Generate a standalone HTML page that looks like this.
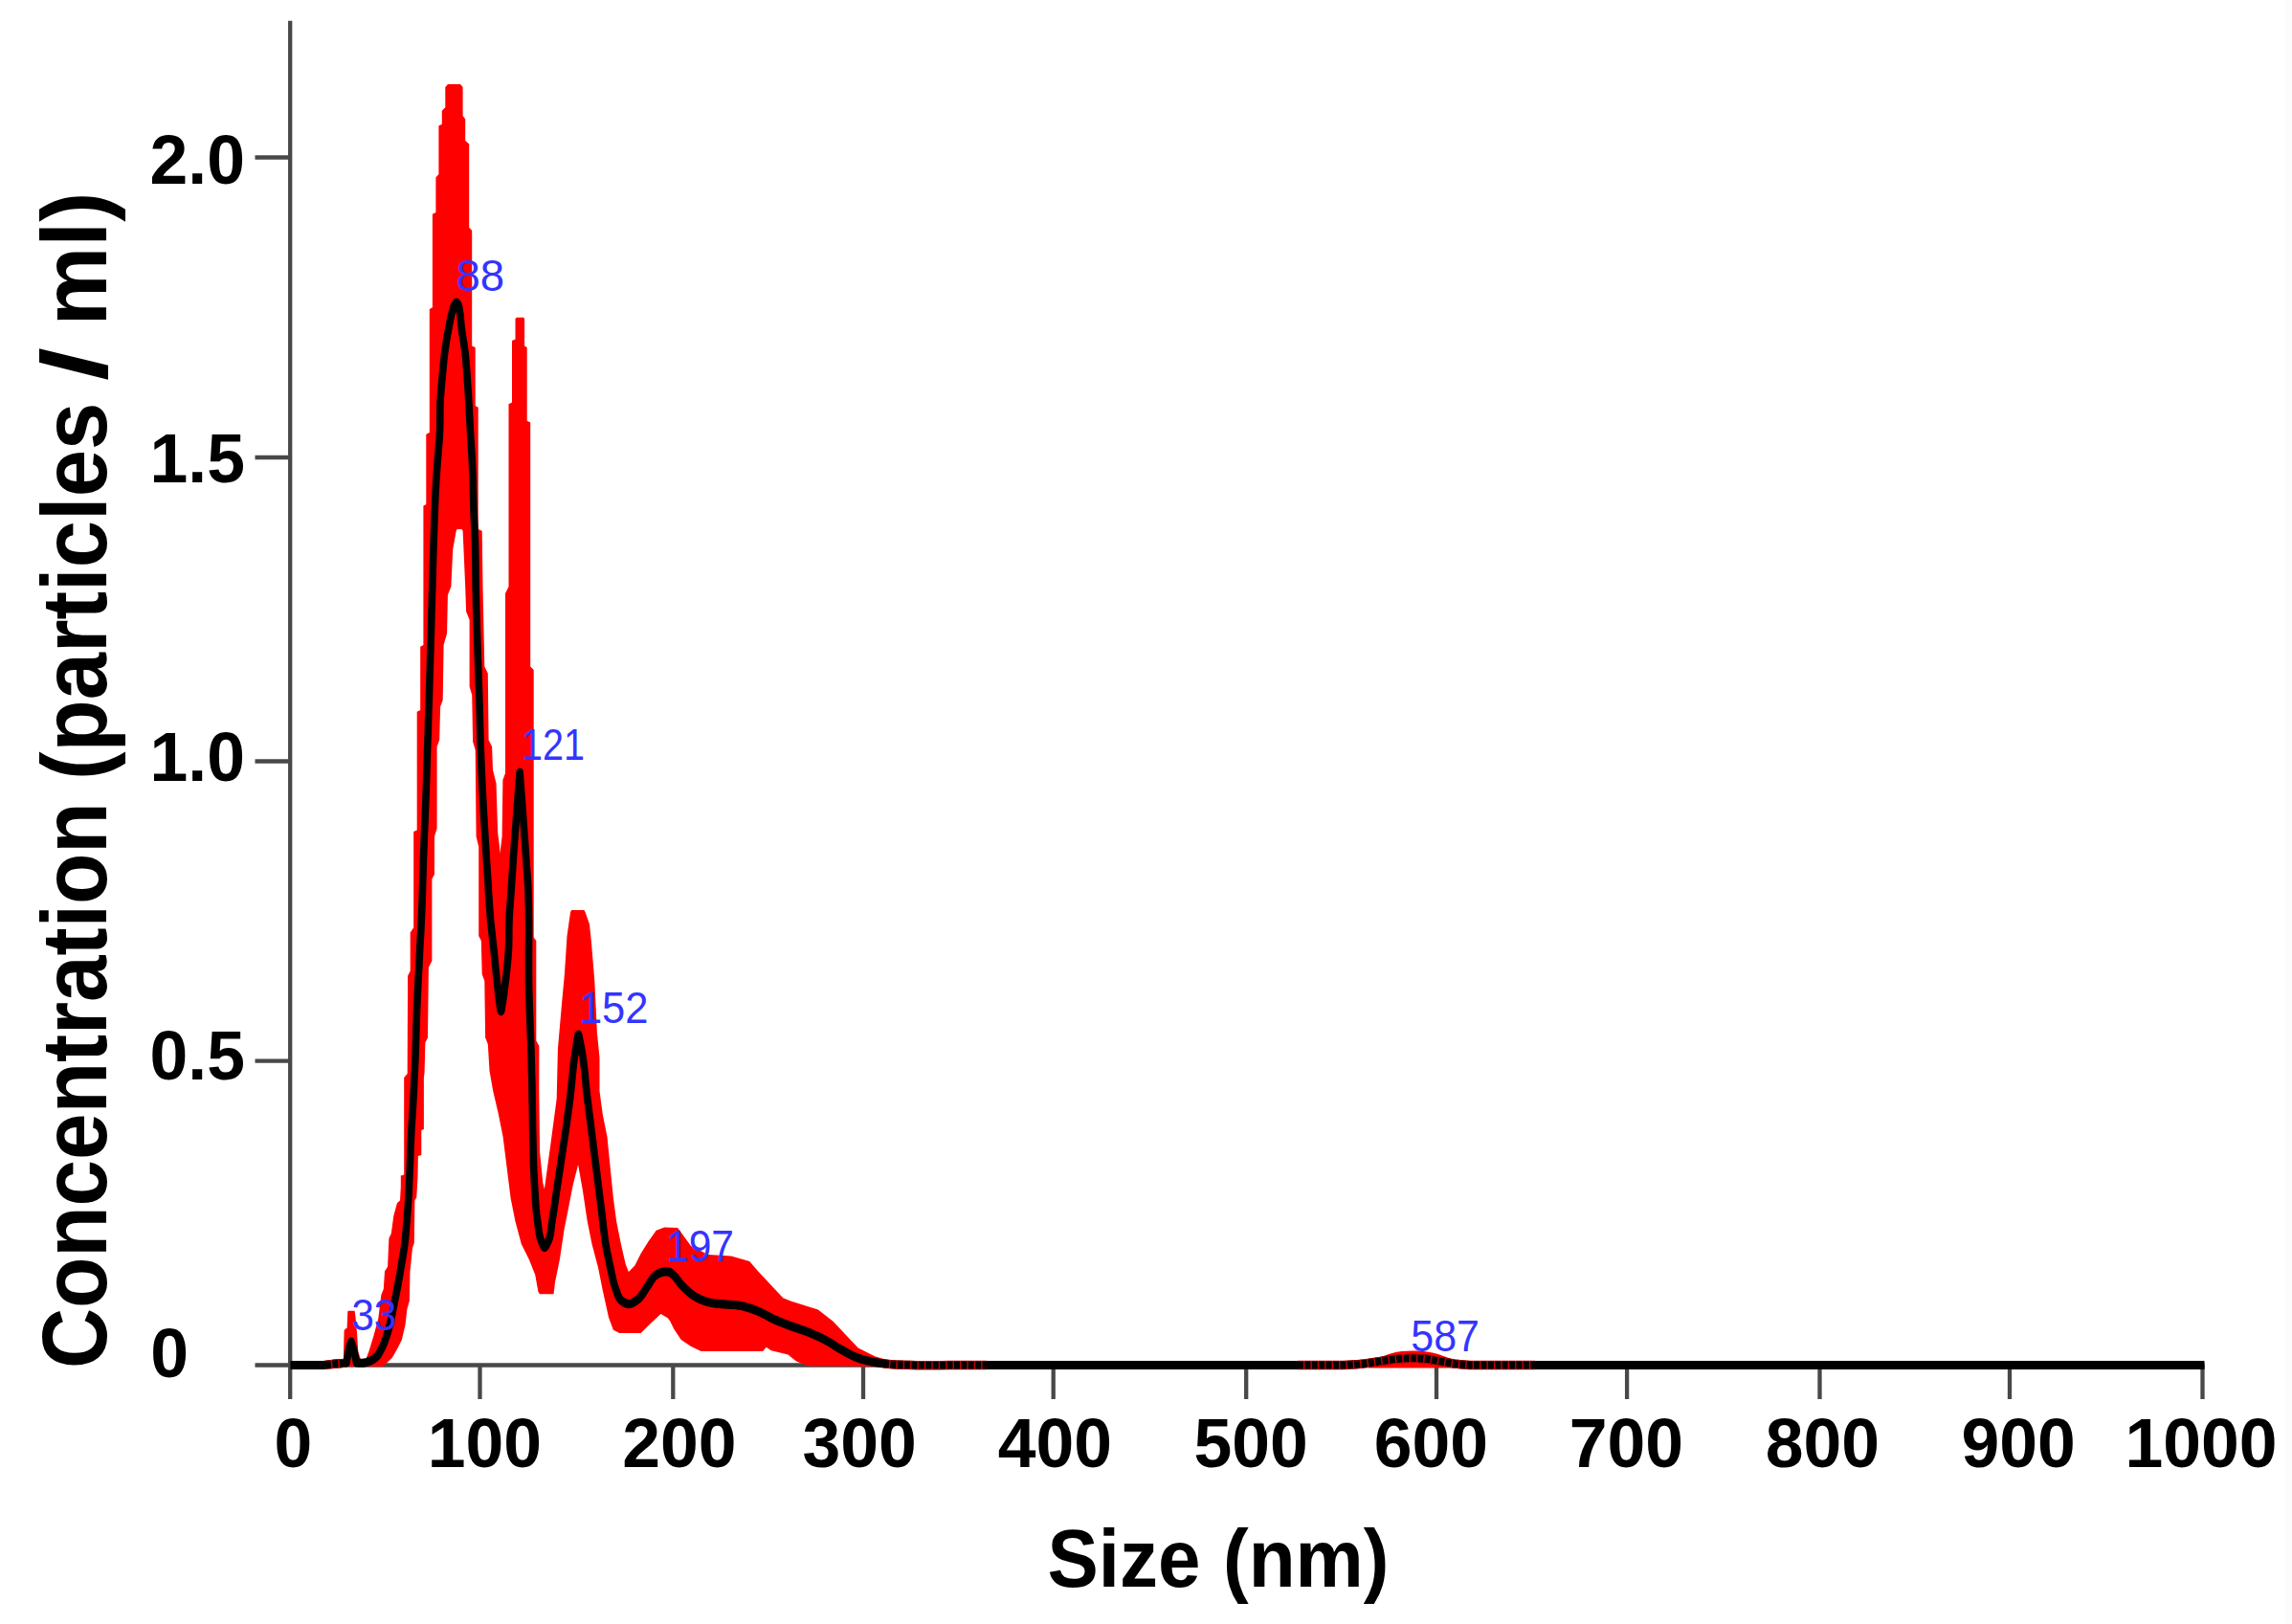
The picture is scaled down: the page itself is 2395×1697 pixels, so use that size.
<!DOCTYPE html>
<html lang="en"><head><meta charset="utf-8"><title>Size distribution</title>
<style>html,body{margin:0;padding:0;background:#fff;}body{width:2395px;height:1697px;overflow:hidden;}svg{display:block;}</style>
</head><body>
<svg width="2395" height="1697" viewBox="0 0 2395 1697">
<rect width="2395" height="1697" fill="#fff"/>
<rect x="2388.7" y="0" width="6.3" height="1697" fill="#fcfcfc"/>
<g stroke="#484848" stroke-width="4.3" fill="none">
<line x1="303.2" y1="21.8" x2="303.2" y2="1462"/>
<line x1="266.5" y1="1426.5" x2="2303.5" y2="1426.5"/>
<line x1="266.5" y1="164.5" x2="303" y2="164.5"/>
<line x1="266.5" y1="478" x2="303" y2="478"/>
<line x1="266.5" y1="795.5" x2="303" y2="795.5"/>
<line x1="266.5" y1="1108.6" x2="303" y2="1108.6"/>
<line x1="501.5" y1="1426" x2="501.5" y2="1462"/>
<line x1="703.3" y1="1426" x2="703.3" y2="1462"/>
<line x1="902.0" y1="1426" x2="902.0" y2="1462"/>
<line x1="1100.7" y1="1426" x2="1100.7" y2="1462"/>
<line x1="1302.2" y1="1426" x2="1302.2" y2="1462"/>
<line x1="1501.0" y1="1426" x2="1501.0" y2="1462"/>
<line x1="1700.1" y1="1426" x2="1700.1" y2="1462"/>
<line x1="1901.5" y1="1426" x2="1901.5" y2="1462"/>
<line x1="2100.0" y1="1426" x2="2100.0" y2="1462"/>
<line x1="2301.5" y1="1426" x2="2301.5" y2="1462"/>
</g>
<polygon fill="#ff0000" points="341.0,1427.00 348.5,1420.50 358.9,1420.50 359.6,1390.10 362.6,1387.60 363.3,1370.40 363.9,1369.80 370.6,1369.80 371.6,1376.90 373.1,1393.80 374.3,1412.30 377.4,1422.10 381.7,1422.10 385.4,1412.30 390.3,1396.30 395.3,1377.80 398.3,1353.20 400.8,1347.00 402.0,1328.50 405.1,1323.60 406.4,1294.00 408.8,1289.10 411.3,1270.60 415.0,1257.10 418.0,1254.60 418.8,1240.00 418.8,1228.40 422.2,1227.60 422.2,1126.00 425.7,1122.00 426.1,1019.70 428.7,1014.50 428.7,974.40 432.2,969.20 432.2,869.00 435.7,867.40 435.7,743.70 439.2,742.00 439.2,675.70 442.4,674.00 442.4,528.60 445.3,526.90 445.3,453.70 448.8,452.00 448.8,323.00 451.9,321.30 451.9,223.80 455.4,222.00 455.4,185.40 458.4,182.00 458.4,131.40 461.8,129.70 461.8,115.70 465.3,112.30 465.3,91.00 468.0,87.90 481.0,87.90 483.6,91.00 483.6,121.00 486.2,124.50 486.2,147.00 490.2,150.60 490.2,237.70 493.2,241.00 493.2,361.40 496.7,363.00 496.7,424.00 499.7,425.80 499.7,553.00 503.7,554.70 504.5,613.00 506.3,696.60 509.8,703.60 510.6,773.30 514.1,780.20 515.0,804.60 518.5,818.60 520.2,870.80 522.0,884.80 522.4,891.70 524.6,874.30 525.4,815.10 528.0,808.10 528.0,620.00 531.5,613.00 531.5,422.30 535.0,420.60 535.0,356.00 538.5,354.40 538.5,333.00 540.0,331.70 547.0,331.70 548.1,333.00 548.1,361.40 550.7,363.00 550.7,439.80 554.2,441.50 554.2,696.60 557.7,700.10 557.7,979.60 560.3,983.10 560.3,1087.60 563.4,1092.90 563.3,1140.00 564.1,1204.00 567.3,1236.00 568.9,1242.50 572.0,1220.00 575.3,1196.00 578.5,1172.00 581.7,1148.00 582.9,1096.30 587.3,1045.80 589.9,1018.00 592.5,977.90 596.0,953.50 597.0,950.90 610.5,950.90 611.7,953.50 616.0,965.70 617.8,983.10 621.3,1024.90 623.9,1078.90 626.5,1105.00 626.5,1140.00 629.7,1164.00 634.5,1188.00 637.7,1220.00 640.9,1252.00 644.1,1276.00 648.9,1300.00 653.7,1321.00 656.9,1329.00 663.3,1322.50 669.7,1309.70 677.7,1296.90 685.7,1285.70 694.2,1282.50 708.2,1283.00 722.0,1302.00 740.0,1311.00 764.0,1312.60 783.2,1317.90 792.0,1328.30 818.2,1356.30 826.9,1359.80 854.8,1368.50 870.5,1380.70 896.7,1408.60 914.1,1417.30 931.6,1422.60 949.0,1424.30 960.0,1426.00 960.0,1428.00 844.3,1427.50 832.1,1422.60 823.4,1415.60 805.9,1411.20 800.7,1407.70 797.2,1412.10 732.6,1412.10 722.2,1406.90 711.7,1399.90 704.7,1389.40 700.0,1380.20 697.7,1377.20 690.5,1373.00 679.3,1383.40 669.7,1393.00 647.3,1393.00 640.9,1389.80 636.1,1377.00 629.7,1348.00 624.9,1324.00 618.5,1300.00 613.7,1276.00 608.9,1244.00 604.1,1216.90 598.5,1239.30 594.5,1260.00 589.7,1284.00 584.9,1316.00 580.0,1340.00 578.5,1352.20 564.0,1352.20 562.4,1349.80 559.2,1332.00 552.8,1316.00 544.8,1300.00 538.4,1276.00 533.6,1252.00 529.6,1220.00 525.6,1188.00 520.8,1164.00 515.2,1140.00 511.5,1119.00 509.8,1091.10 507.1,1084.20 506.3,1024.90 503.7,1018.00 502.8,983.10 500.2,977.90 500.2,884.80 497.6,874.30 496.7,783.70 494.1,775.00 493.2,726.20 490.6,717.50 490.6,647.80 487.1,639.10 486.2,613.00 483.6,554.70 482.5,553.00 477.5,553.00 476.7,554.70 473.2,573.90 471.4,613.00 467.9,621.70 467.1,661.80 463.6,674.00 462.7,731.50 460.1,738.40 459.2,773.30 456.6,780.20 456.6,865.60 454.0,874.30 454.0,913.40 451.4,918.60 451.4,1004.00 447.9,1011.00 447.0,1084.20 444.4,1089.40 443.6,1120.70 442.9,1126.00 442.9,1180.00 440.3,1181.00 440.3,1207.00 436.9,1208.00 436.5,1230.00 435.3,1250.90 433.4,1254.60 432.8,1299.00 431.0,1303.90 428.5,1328.50 427.9,1359.30 425.4,1367.90 423.6,1383.90 419.9,1400.00 415.0,1409.80 410.0,1418.40 403.9,1424.60 400.0,1428.00 341.0,1428.00"/>
<path fill="#ff0000" d="M1430,1424 C1450,1414 1460,1411.5 1476,1411.5 C1500,1411.5 1510,1418 1530,1425 L1530,1429.5 L1430,1429.5 Z"/>
<g transform="scale(1,1.2)"><polyline fill="none" stroke="#000" stroke-width="7.6" stroke-linejoin="round" stroke-linecap="butt" points="303.4,1188.75 306.2,1188.75 308.9,1188.75 311.7,1188.75 314.5,1188.75 317.2,1188.75 320.0,1188.75 323.0,1188.75 326.0,1188.75 329.0,1188.75 332.0,1188.75 335.0,1188.75 338.0,1188.75 340.0,1188.57 342.0,1188.38 344.0,1188.19 346.0,1188.01 348.0,1187.83 350.0,1187.67 351.3,1187.57 352.7,1187.48 354.0,1187.39 355.3,1187.30 356.7,1187.20 358.0,1187.08 358.7,1187.02 359.3,1186.95 360.0,1186.88 360.7,1186.81 361.3,1186.74 362.0,1186.67 362.4,1184.58 362.9,1182.48 363.3,1180.39 363.7,1178.30 364.2,1176.22 364.8,1174.17 365.1,1173.19 365.5,1172.21 365.8,1171.24 366.2,1170.27 366.5,1169.30 366.9,1168.33 367.3,1169.30 367.7,1170.27 368.1,1171.24 368.5,1172.21 368.8,1173.19 369.2,1174.17 369.9,1176.22 370.4,1178.30 371.0,1180.39 371.5,1182.48 372.0,1184.58 372.5,1186.67 373.6,1186.71 374.8,1186.78 375.9,1186.85 377.0,1186.89 378.2,1186.90 379.3,1186.83 380.3,1186.72 381.4,1186.56 382.4,1186.37 383.4,1186.14 384.4,1185.87 385.4,1185.58 386.7,1185.14 388.0,1184.63 389.3,1184.06 390.5,1183.43 391.7,1182.74 392.8,1182.00 394.1,1180.87 395.3,1179.59 396.3,1178.20 397.2,1176.75 398.1,1175.28 399.0,1173.83 400.0,1172.19 400.9,1170.50 401.7,1168.79 402.4,1167.06 403.2,1165.32 403.9,1163.58 404.9,1161.06 405.8,1158.51 406.6,1155.93 407.3,1153.35 408.1,1150.76 408.8,1148.17 409.5,1145.61 410.1,1143.04 410.7,1140.47 411.3,1137.90 411.9,1135.32 412.5,1132.75 413.1,1130.18 413.8,1127.61 414.4,1125.05 415.0,1122.48 415.6,1119.91 416.2,1117.33 416.7,1114.78 417.3,1112.23 417.8,1109.67 418.3,1107.11 418.8,1104.56 419.3,1102.00 419.8,1099.43 420.4,1096.87 420.9,1094.30 421.4,1091.73 421.9,1089.16 422.4,1086.58 422.9,1083.18 423.4,1079.77 423.8,1076.35 424.1,1072.93 424.5,1069.50 424.8,1066.08 425.2,1062.66 425.5,1059.23 425.8,1055.80 426.1,1052.37 426.4,1048.93 426.7,1045.50 426.9,1042.09 427.2,1038.67 427.4,1035.25 427.5,1031.84 427.7,1028.42 427.9,1025.00 428.3,1017.92 428.6,1010.83 428.9,1003.75 429.2,996.66 429.6,989.58 430.0,982.50 430.2,979.49 430.5,976.47 430.7,973.46 430.9,970.44 431.2,967.43 431.4,964.42 431.9,957.16 432.4,949.89 432.8,942.63 433.2,935.37 433.6,928.10 434.0,920.83 434.3,913.58 434.6,906.33 434.8,899.08 435.1,891.83 435.4,884.58 435.7,877.33 436.1,870.07 436.5,862.80 436.9,855.54 437.4,848.28 437.9,841.01 438.3,833.75 438.7,826.50 439.2,819.25 439.7,812.00 440.1,804.75 440.5,797.50 440.9,790.25 441.2,782.99 441.5,775.72 441.7,768.46 442.0,761.19 442.2,753.93 442.5,746.67 442.9,738.82 443.2,730.97 443.6,723.12 444.0,715.28 444.4,707.43 444.8,699.58 445.1,692.32 445.4,685.06 445.7,677.79 445.9,670.53 446.2,663.26 446.5,656.00 446.8,648.75 447.1,641.50 447.4,634.25 447.6,627.00 447.9,619.75 448.2,612.50 448.6,602.82 448.9,593.14 449.3,583.46 449.6,573.78 450.0,564.10 450.3,554.42 450.6,547.15 450.8,539.89 451.0,532.62 451.3,525.36 451.5,518.10 451.8,510.83 452.1,502.99 452.3,495.14 452.6,487.29 452.9,479.44 453.2,471.60 453.5,463.75 453.8,456.48 454.1,449.22 454.4,441.95 454.8,434.69 455.2,427.43 455.7,420.17 455.9,417.50 456.1,414.83 456.3,412.17 456.5,409.50 456.8,406.83 457.0,404.17 457.4,399.58 457.9,395.00 458.3,390.42 458.8,385.84 459.2,381.25 459.5,376.67 459.7,372.13 459.8,367.59 459.8,363.04 459.8,358.50 459.9,353.95 460.1,349.42 460.4,345.82 460.7,342.22 461.0,338.62 461.4,335.02 461.8,331.43 462.2,327.83 462.6,324.25 463.0,320.66 463.4,317.07 463.8,313.49 464.3,309.91 464.8,306.33 465.4,302.72 466.1,299.12 466.7,295.51 467.5,291.92 468.3,288.33 469.1,284.75 469.6,282.56 470.1,280.36 470.6,278.17 471.2,275.99 471.8,273.82 472.5,271.67 472.8,270.60 473.2,269.52 473.5,268.44 473.9,267.39 474.4,266.37 475.0,265.42 475.3,265.01 475.6,264.55 475.9,264.10 476.2,263.71 476.6,263.44 476.9,263.33 477.2,263.44 477.6,263.71 477.9,264.10 478.2,264.55 478.5,265.01 478.8,265.42 479.3,266.36 479.7,267.38 479.9,268.43 480.1,269.52 480.3,270.60 480.5,271.67 480.9,273.83 481.2,276.00 481.4,278.19 481.6,280.38 481.8,282.57 482.1,284.75 482.7,288.35 483.3,291.95 484.0,295.54 484.7,299.13 485.3,302.73 485.9,306.33 486.4,309.91 486.8,313.49 487.1,317.07 487.5,320.66 487.8,324.25 488.1,327.83 488.4,331.43 488.7,335.02 489.0,338.62 489.3,342.22 489.5,345.82 489.8,349.42 490.1,354.05 490.4,358.69 490.7,363.33 491.0,367.97 491.3,372.61 491.6,377.25 491.9,381.74 492.2,386.22 492.6,390.71 492.9,395.19 493.2,399.68 493.5,404.17 493.8,410.46 494.1,416.75 494.3,423.04 494.5,429.33 494.7,435.63 494.9,441.92 495.2,447.97 495.5,454.03 495.9,460.08 496.2,466.14 496.5,472.19 496.7,478.25 496.8,483.68 496.9,489.11 497.0,494.54 497.0,499.97 497.1,505.40 497.2,510.83 497.4,518.10 497.6,525.36 497.8,532.63 498.1,539.89 498.3,547.15 498.6,554.42 499.0,564.10 499.4,573.78 499.8,583.46 500.2,593.14 500.6,602.82 501.0,612.50 501.2,618.75 501.4,625.00 501.6,631.25 501.8,637.50 502.0,643.75 502.2,650.00 502.8,662.33 503.4,674.65 504.1,686.97 504.9,699.29 505.7,711.60 506.6,723.92 507.0,730.07 507.5,736.22 508.0,742.38 508.4,748.53 508.9,754.68 509.4,760.83 509.9,767.36 510.3,773.90 510.8,780.43 511.3,786.96 511.9,793.48 512.5,800.00 513.0,804.80 513.7,809.59 514.3,814.38 514.9,819.17 515.6,823.96 516.2,828.75 516.8,833.54 517.3,838.34 517.9,843.13 518.5,847.92 519.1,852.71 519.7,857.50 520.1,860.14 520.4,862.79 520.7,865.43 521.1,868.07 521.5,870.70 522.0,873.33 522.2,874.69 522.5,876.25 522.7,877.81 523.0,879.17 523.2,880.13 523.5,880.50 523.8,880.14 524.1,879.18 524.4,877.82 524.6,876.26 524.9,874.70 525.2,873.33 525.7,870.71 526.2,868.07 526.6,865.43 527.0,862.79 527.4,860.14 527.8,857.50 528.5,852.72 529.2,847.93 529.8,843.14 530.4,838.35 530.9,833.55 531.3,828.75 531.6,823.97 531.7,819.17 531.8,814.38 531.8,809.58 531.9,804.79 532.1,800.00 532.3,796.55 532.6,793.11 532.9,789.66 533.2,786.22 533.5,782.78 533.8,779.33 534.3,773.18 534.8,767.03 535.3,760.87 535.8,754.72 536.3,748.57 536.8,742.42 537.8,730.76 538.9,719.11 539.9,707.45 541.0,695.80 542.1,684.15 543.2,672.50 544.2,684.15 545.3,695.80 546.3,707.45 547.3,719.11 548.3,730.76 549.3,742.42 549.8,748.57 550.3,754.72 550.9,760.87 551.4,767.02 551.8,773.18 552.1,779.33 552.2,782.78 552.3,786.22 552.4,789.66 552.5,793.11 552.5,796.56 552.6,800.00 552.7,809.58 552.6,819.17 552.5,828.75 552.5,838.34 552.5,847.92 552.6,857.50 552.7,862.28 552.9,867.06 553.1,871.83 553.3,876.61 553.5,881.39 553.7,886.17 553.9,891.25 554.1,896.33 554.4,901.42 554.6,906.50 554.8,911.58 555.0,916.67 555.2,922.22 555.4,927.78 555.5,933.33 555.7,938.89 555.9,944.44 556.0,950.00 556.1,956.67 556.3,963.33 556.4,970.00 556.5,976.67 556.6,983.33 556.8,990.00 557.0,996.67 557.2,1003.34 557.4,1010.01 557.6,1016.68 558.0,1023.34 558.4,1030.00 558.8,1035.57 559.2,1041.14 559.6,1046.71 560.1,1052.27 560.8,1057.81 561.7,1063.33 562.2,1066.29 562.6,1069.26 563.1,1072.24 563.7,1075.17 564.5,1078.05 565.7,1080.83 566.2,1081.87 566.7,1083.04 567.2,1084.20 567.8,1085.22 568.3,1085.95 568.9,1086.25 569.5,1086.01 570.2,1085.31 570.9,1084.28 571.6,1083.09 572.3,1081.89 572.9,1080.83 574.2,1078.12 575.0,1075.26 575.6,1072.30 576.0,1069.30 576.4,1066.30 576.9,1063.33 577.8,1058.90 578.6,1054.46 579.4,1050.01 580.2,1045.56 580.9,1041.11 581.7,1036.67 582.5,1032.22 583.3,1027.78 584.1,1023.33 584.9,1018.89 585.7,1014.44 586.5,1010.00 587.3,1005.56 588.1,1001.11 588.9,996.67 589.7,992.23 590.5,987.78 591.3,983.33 592.1,978.48 592.9,973.62 593.7,968.76 594.5,963.90 595.3,959.03 596.0,954.17 596.7,948.61 597.4,943.05 598.0,937.49 598.7,931.93 599.4,926.37 600.3,920.83 600.7,918.47 601.1,916.10 601.6,913.74 602.0,911.38 602.5,909.02 603.0,906.67 603.2,905.56 603.4,904.29 603.7,903.02 603.9,901.92 604.2,901.13 604.4,900.83 604.7,901.13 604.9,901.91 605.2,903.01 605.5,904.29 605.7,905.56 606.0,906.67 606.6,909.02 607.1,911.37 607.7,913.73 608.2,916.10 608.6,918.46 609.1,920.83 609.9,925.67 610.6,930.53 611.2,935.39 611.7,940.27 612.3,945.14 612.9,950.00 613.5,954.45 614.2,958.89 614.9,963.34 615.5,967.78 616.2,972.22 616.9,976.67 617.6,981.11 618.2,985.56 618.9,990.00 619.6,994.44 620.2,998.89 620.9,1003.33 621.6,1007.78 622.2,1012.22 622.9,1016.67 623.6,1021.11 624.2,1025.56 624.9,1030.00 625.6,1034.44 626.2,1038.89 626.9,1043.33 627.6,1047.78 628.2,1052.22 628.9,1056.67 629.5,1061.12 630.1,1065.57 630.7,1070.02 631.4,1074.47 632.1,1078.91 632.9,1083.33 633.6,1086.68 634.3,1090.02 635.1,1093.36 636.0,1096.69 636.8,1100.01 637.7,1103.33 638.5,1106.50 639.3,1109.69 640.1,1112.88 641.0,1116.03 642.0,1119.14 643.3,1122.17 644.1,1124.07 644.9,1126.05 645.8,1128.01 646.8,1129.86 648.1,1131.50 649.7,1132.83 650.8,1133.46 651.9,1134.07 653.1,1134.61 654.4,1135.05 655.7,1135.36 656.9,1135.50 658.5,1135.37 660.2,1134.91 661.9,1134.21 663.5,1133.35 665.0,1132.42 666.5,1131.50 668.4,1130.05 670.1,1128.36 671.7,1126.52 673.1,1124.60 674.6,1122.68 676.1,1120.83 677.6,1118.97 679.0,1117.00 680.5,1115.03 682.0,1113.17 683.7,1111.51 685.7,1110.17 686.9,1109.55 688.2,1108.97 689.6,1108.46 691.0,1108.03 692.4,1107.70 693.8,1107.50 694.8,1107.42 695.9,1107.37 697.0,1107.37 698.0,1107.45 699.1,1107.63 700.0,1107.92 700.5,1108.16 701.1,1108.46 701.5,1108.78 702.0,1109.13 702.5,1109.49 703.0,1109.83 704.9,1111.35 706.7,1113.03 708.3,1114.80 709.9,1116.60 711.6,1118.35 713.4,1120.00 715.3,1121.59 717.3,1123.16 719.3,1124.68 721.3,1126.14 723.5,1127.51 725.7,1128.75 727.9,1129.81 730.1,1130.79 732.4,1131.68 734.8,1132.49 737.2,1133.21 739.6,1133.83 742.4,1134.41 745.3,1134.81 748.3,1135.09 751.2,1135.31 754.2,1135.51 757.1,1135.75 760.0,1135.98 762.9,1136.15 765.8,1136.30 768.8,1136.49 771.6,1136.77 774.5,1137.17 777.5,1137.73 780.4,1138.40 783.4,1139.16 786.3,1140.00 789.2,1140.90 792.0,1141.83 795.0,1142.92 797.9,1144.12 800.7,1145.39 803.6,1146.67 806.5,1147.92 809.4,1149.08 812.3,1150.13 815.2,1151.14 818.1,1152.11 821.0,1153.06 824.0,1154.00 826.9,1154.92 829.8,1155.79 832.7,1156.61 835.6,1157.42 838.5,1158.24 841.4,1159.09 844.3,1160.00 847.3,1161.00 850.2,1162.04 853.2,1163.11 856.1,1164.22 859.0,1165.38 861.8,1166.58 864.8,1167.95 867.7,1169.41 870.5,1170.92 873.4,1172.44 876.3,1173.93 879.2,1175.33 882.1,1176.65 884.9,1177.96 887.8,1179.24 890.7,1180.46 893.7,1181.58 896.7,1182.58 899.5,1183.38 902.4,1184.09 905.3,1184.71 908.2,1185.27 911.2,1185.78 914.1,1186.25 917.0,1186.67 919.9,1187.04 922.8,1187.35 925.7,1187.63 928.7,1187.87 931.6,1188.08 934.5,1188.25 937.4,1188.38 940.3,1188.47 943.2,1188.54 946.1,1188.60 949.0,1188.67 957.5,1188.82 966.0,1188.87 974.5,1188.86 983.0,1188.81 991.5,1188.76 1000.0,1188.75 1404.0,1188.75 1407.5,1188.56 1411.0,1188.38 1414.5,1188.21 1418.0,1188.02 1421.5,1187.79 1425.0,1187.50 1428.3,1187.15 1431.7,1186.75 1435.0,1186.31 1438.3,1185.86 1441.7,1185.41 1445.0,1185.00 1447.5,1184.70 1450.0,1184.39 1452.5,1184.08 1455.0,1183.80 1457.5,1183.54 1460.0,1183.33 1462.4,1183.18 1464.8,1183.05 1467.2,1182.96 1469.7,1182.89 1472.1,1182.85 1474.5,1182.83 1477.1,1182.84 1479.7,1182.86 1482.3,1182.91 1484.8,1183.01 1487.4,1183.14 1490.0,1183.33 1492.5,1183.59 1495.0,1183.91 1497.5,1184.28 1500.0,1184.66 1502.5,1185.05 1505.0,1185.42 1507.5,1185.77 1510.0,1186.14 1512.5,1186.51 1515.0,1186.87 1517.5,1187.20 1520.0,1187.50 1522.7,1187.76 1525.3,1187.99 1528.0,1188.19 1530.7,1188.37 1533.3,1188.55 1536.0,1188.75 2303.5,1188.75"/></g>
<polyline fill="none" stroke="#c80000" stroke-width="9.3" points="923.0,1424.85 925.7,1425.16 928.7,1425.44 931.6,1425.70 934.5,1425.91 937.4,1426.05 940.3,1426.16 943.2,1426.25 946.1,1426.32 949.0,1426.40 957.5,1426.58 966.0,1426.65 974.5,1426.63 983.0,1426.57 991.5,1426.52 1000.0,1426.50 1031.0,1426.50"/>
<polyline fill="none" stroke="#000" stroke-width="7.8" stroke-dasharray="6 1.4" points="923.0,1424.85 925.7,1425.16 928.7,1425.44 931.6,1425.70 934.5,1425.91 937.4,1426.05 940.3,1426.16 943.2,1426.25 946.1,1426.32 949.0,1426.40 957.5,1426.58 966.0,1426.65 974.5,1426.63 983.0,1426.57 991.5,1426.52 1000.0,1426.50 1031.0,1426.50"/>
<polyline fill="none" stroke="#c80000" stroke-width="9.3" points="1356.0,1426.50 1404.0,1426.50 1407.5,1426.27 1411.0,1426.06 1414.5,1425.85 1418.0,1425.62 1421.5,1425.35 1425.0,1425.00 1428.3,1424.58 1431.7,1424.10 1435.0,1423.57 1438.3,1423.03 1441.7,1422.50 1445.0,1422.00 1447.5,1421.64 1450.0,1421.27 1452.5,1420.90 1455.0,1420.55 1457.5,1420.25 1460.0,1420.00 1462.4,1419.81 1464.8,1419.66 1467.2,1419.55 1469.7,1419.47 1472.1,1419.42 1474.5,1419.40 1477.1,1419.40 1479.7,1419.43 1482.3,1419.50 1484.8,1419.61 1487.4,1419.77 1490.0,1420.00 1492.5,1420.31 1495.0,1420.69 1497.5,1421.13 1500.0,1421.60 1502.5,1422.06 1505.0,1422.50 1507.5,1422.93 1510.0,1423.37 1512.5,1423.82 1515.0,1424.24 1517.5,1424.64 1520.0,1425.00 1522.7,1425.32 1525.3,1425.59 1528.0,1425.82 1530.7,1426.04 1533.3,1426.26 1536.0,1426.50 1604.0,1426.50"/>
<polyline fill="none" stroke="#000" stroke-width="7.8" stroke-dasharray="6 1.4" points="1356.0,1426.50 1404.0,1426.50 1407.5,1426.27 1411.0,1426.06 1414.5,1425.85 1418.0,1425.62 1421.5,1425.35 1425.0,1425.00 1428.3,1424.58 1431.7,1424.10 1435.0,1423.57 1438.3,1423.03 1441.7,1422.50 1445.0,1422.00 1447.5,1421.64 1450.0,1421.27 1452.5,1420.90 1455.0,1420.55 1457.5,1420.25 1460.0,1420.00 1462.4,1419.81 1464.8,1419.66 1467.2,1419.55 1469.7,1419.47 1472.1,1419.42 1474.5,1419.40 1477.1,1419.40 1479.7,1419.43 1482.3,1419.50 1484.8,1419.61 1487.4,1419.77 1490.0,1420.00 1492.5,1420.31 1495.0,1420.69 1497.5,1421.13 1500.0,1421.60 1502.5,1422.06 1505.0,1422.50 1507.5,1422.93 1510.0,1423.37 1512.5,1423.82 1515.0,1424.24 1517.5,1424.64 1520.0,1425.00 1522.7,1425.32 1525.3,1425.59 1528.0,1425.82 1530.7,1426.04 1533.3,1426.26 1536.0,1426.50 1604.0,1426.50"/>
<polyline fill="none" stroke="#c80000" stroke-width="9.3" points="340.0,1426.28 342.0,1426.06 344.0,1425.83 346.0,1425.61 348.0,1425.40 350.0,1425.20 351.3,1425.08 352.7,1424.97 354.0,1424.87 355.3,1424.76 356.7,1424.64 358.0,1424.50 358.7,1424.42 359.3,1424.34 360.0,1424.26"/>
<polyline fill="none" stroke="#000" stroke-width="7.8" stroke-dasharray="6 1.4" points="340.0,1426.28 342.0,1426.06 344.0,1425.83 346.0,1425.61 348.0,1425.40 350.0,1425.20 351.3,1425.08 352.7,1424.97 354.0,1424.87 355.3,1424.76 356.7,1424.64 358.0,1424.50 358.7,1424.42 359.3,1424.34 360.0,1424.26"/>
<g font-family="'Liberation Sans', Arial, sans-serif" font-weight="700" fill="#000">
<text x="306.5" y="1532.5" font-size="71.5" text-anchor="middle">0</text>
<text x="506.5" y="1532.5" font-size="71.5" text-anchor="middle">100</text>
<text x="710.0" y="1532.5" font-size="71.5" text-anchor="middle">200</text>
<text x="898.2" y="1532.5" font-size="71.5" text-anchor="middle">300</text>
<text x="1102.4" y="1532.5" font-size="71.5" text-anchor="middle">400</text>
<text x="1307.2" y="1532.5" font-size="71.5" text-anchor="middle">500</text>
<text x="1495.3" y="1532.5" font-size="71.5" text-anchor="middle">600</text>
<text x="1699.5" y="1532.5" font-size="71.5" text-anchor="middle">700</text>
<text x="1904.3" y="1532.5" font-size="71.5" text-anchor="middle">800</text>
<text x="2109.1" y="1532.5" font-size="71.5" text-anchor="middle">900</text>
<text x="2300.1" y="1532.5" font-size="71.5" text-anchor="middle">1000</text>
<text x="256" y="192" font-size="71.5" text-anchor="end">2.0</text>
<text x="256" y="504" font-size="71.5" text-anchor="end">1.5</text>
<text x="256" y="815.8" font-size="71.5" text-anchor="end">1.0</text>
<text x="256" y="1127.8" font-size="71.5" text-anchor="end">0.5</text>
<text x="157.3" y="1438.8" font-size="71.5">0</text>
<text transform="translate(1094.5,1657.8) scale(0.929,1)" font-size="86">Size</text>
<text transform="translate(1278,1657.8) scale(0.931,1)" font-size="86">(nm)</text>
<text transform="translate(110.9,1430.1) rotate(-90) scale(0.9,1)" font-size="97">Concentration</text>
<text transform="translate(110.9,814.9) rotate(-90) scale(0.914,1)" font-size="97">(particles</text>
<text transform="translate(110.9,398) rotate(-90) scale(1.3,1)" font-size="97">/</text>
<text transform="translate(110.9,340.6) rotate(-90) scale(0.961,1)" font-size="97">ml)</text>
</g>
<g font-family="'Liberation Sans', Arial, sans-serif" font-size="45.5" fill="#3434ff">
<text transform="translate(367.4,1390) scale(0.925,1)">33</text>
<text transform="translate(476.4,303.9) scale(1.0,1)">88</text>
<text transform="translate(545.1,794.2) scale(0.87,1)">121</text>
<text transform="translate(604.9,1069.3) scale(0.957,1)">152</text>
<text transform="translate(696,1318.4) scale(0.935,1)">197</text>
<text transform="translate(1474.3,1411.5) scale(0.945,1)">587</text>
</g>
</svg>
</body></html>
